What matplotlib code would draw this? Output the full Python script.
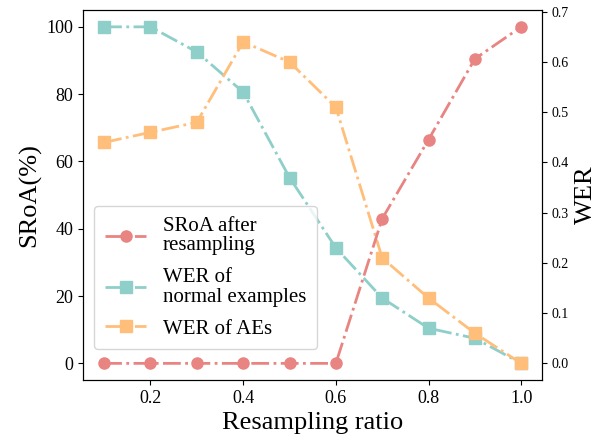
import matplotlib
matplotlib.use("Agg")
import matplotlib.pyplot as plt

plt.rcParams['font.family'] = ['Liberation Serif', 'DejaVu Serif']
plt.rcParams['mathtext.fontset'] = 'stix'

ratios = [0.1, 0.2, 0.3, 0.4, 0.5, 0.6, 0.7, 0.8, 0.9, 1.0]
sroa = [0, 0, 0, 0, 0, 0, 43, 66.5, 90.5, 100]
wer_normal = [0.67, 0.67, 0.62, 0.54, 0.37, 0.23, 0.13, 0.07, 0.05, 0.0]
wer_aes = [0.44, 0.46, 0.48, 0.64, 0.60, 0.51, 0.21, 0.13, 0.06, 0.0]

c_red = '#E88482'
c_teal = '#8ECFC9'
c_orange = '#FFBE7A'

fig = plt.figure(figsize=(5.99, 4.36), dpi=100)
ax = fig.add_axes([0.139, 0.128, 0.766, 0.849])
ax2 = ax.twinx()

l1, = ax.plot(ratios, sroa, linestyle='-.', marker='o', color=c_red, lw=2, ms=8,
              label='SRoA after\nresampling', zorder=3)
l2, = ax2.plot(ratios, wer_normal, linestyle='-.', marker='s', color=c_teal, lw=2, ms=8,
               label='WER of\nnormal examples')
l3, = ax2.plot(ratios, wer_aes, linestyle='-.', marker='s', color=c_orange, lw=2, ms=8,
               label='WER of AEs')

ax.set_xlabel('Resampling ratio', fontsize=19)
ax.set_ylabel('SRoA(%)', fontsize=19)
ax2.set_ylabel('WER', fontsize=19)
ax.tick_params(axis='both', labelsize=13)
ax2.tick_params(axis='y', labelsize=10)
ax.set_xticks([0.2, 0.4, 0.6, 0.8, 1.0])
ax.set_yticks([0, 20, 40, 60, 80, 100])
ax2.set_yticks([0.0, 0.1, 0.2, 0.3, 0.4, 0.5, 0.6, 0.7])

leg = ax.legend(handles=[l1, l2, l3], loc='lower left', bbox_to_anchor=(0.024, 0.084),
                borderaxespad=0, fontsize=15, handlelength=2.0, labelspacing=0.6,
                borderpad=0.5)
for t in leg.get_texts():
    t.set_linespacing(1.05)
ax.set_zorder(ax2.get_zorder() + 1)
ax.patch.set_visible(False)

fig.savefig('out.png', dpi=100)
